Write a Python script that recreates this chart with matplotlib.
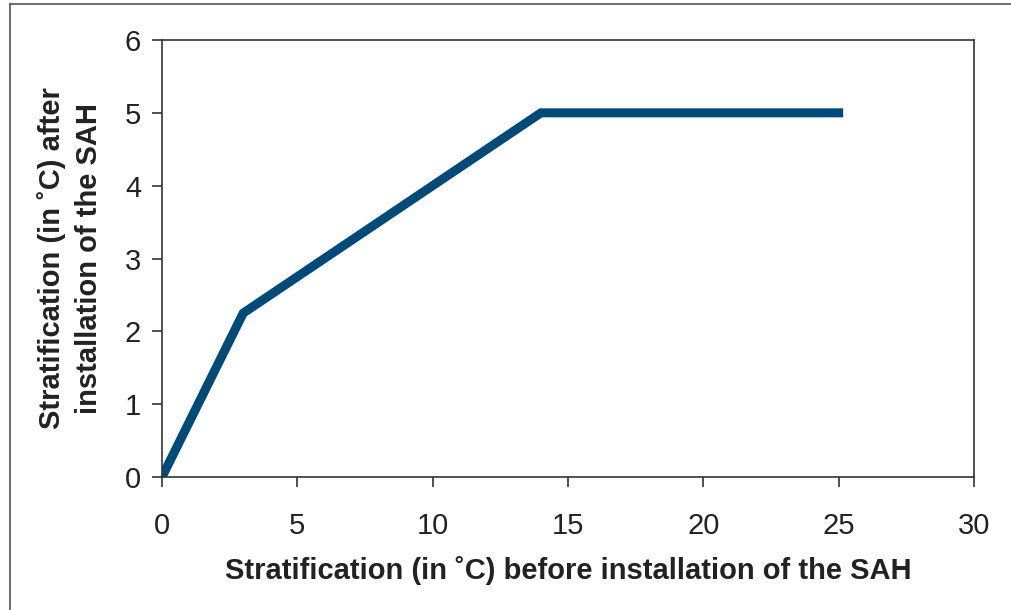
import matplotlib
matplotlib.use("Agg")
from matplotlib import pyplot as plt
from matplotlib.lines import Line2D

x_before = [0, 3, 14, 25]
y_after = [0, 2.25, 5, 5]
x_ticks = [0, 5, 10, 15, 20, 25, 30]
y_ticks = [0, 1, 2, 3, 4, 5, 6]

plt.rcParams["font.family"] = ["Liberation Sans", "DejaVu Sans"]

fig = plt.figure(figsize=(10.11, 6.10), dpi=100)
ax = fig.add_axes([162 / 1011, 1 - 477 / 610, (974 - 162) / 1011, (477 - 40) / 610])

ax.plot(x_before, y_after, color="#004a7a", lw=6.5, solid_capstyle="projecting",
        solid_joinstyle="miter")

ax.set_xlim(0, 30)
ax.set_ylim(0, 6)
ax.set_xticks(x_ticks)
ax.set_yticks(y_ticks)
ax.tick_params(direction="out", length=7, width=1.2, color="#333333",
               labelsize=21, labelcolor="#222222")
ax.tick_params(axis="x", pad=18)
ax.tick_params(axis="y", pad=8)
for s in ax.spines.values():
    s.set_linewidth(1.2)
    s.set_color("#333333")

ax.set_xlabel("Stratification (in ˚C) before installation of the SAH",
              fontsize=21, fontweight="bold", color="#222222", labelpad=12)
ax.set_ylabel("Stratification (in ˚C) after\ninstallation of the SAH",
              fontsize=21, fontweight="bold", color="#222222", labelpad=16,
              linespacing=1.4)

# outer frame (left and top edges visible in the original)
fig.add_artist(Line2D([10 / 1011, 10 / 1011], [0, 1 - 4 / 610],
                      transform=fig.transFigure, color="#555555", lw=1.2))
fig.add_artist(Line2D([10 / 1011, 1], [1 - 4 / 610, 1 - 4 / 610],
                      transform=fig.transFigure, color="#555555", lw=1.2))

fig.savefig("out.png", dpi=100)
